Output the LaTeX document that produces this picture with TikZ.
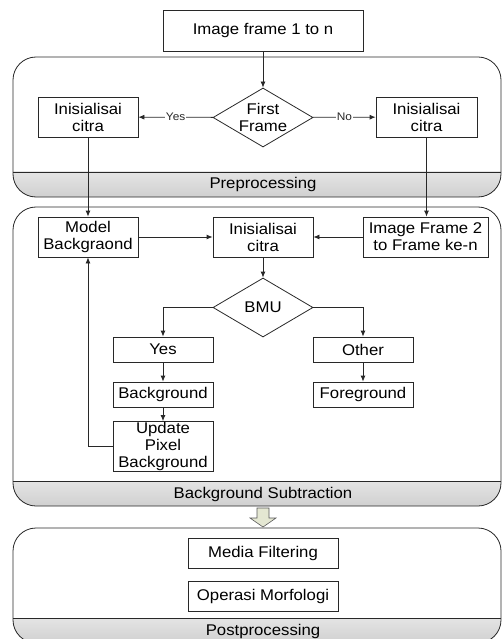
\documentclass[tikz,border=0pt]{standalone}
\usepackage{fontspec}
\setmainfont[FakeStretch=1.08]{Liberation Sans}
\usepackage{tikz}
\usetikzlibrary{arrows.meta}
\usetikzlibrary{shapes.geometric}
\usepackage{xcolor}
\definecolor{ColLine}{RGB}{40,40,40}
\definecolor{ColBandTop}{RGB}{228,228,228}
\definecolor{ColBandMid}{RGB}{246,246,246}
\definecolor{ColBandBot}{RGB}{208,208,208}
\definecolor{ColHollow}{RGB}{228,231,210}
\tikzstyle{BoxStep}=[draw=ColLine,line width=0.8pt,inner sep=0pt,align=center,
font=\fontsize{15.5}{17}\selectfont]
\tikzstyle{DecisionStep}=[diamond,draw=ColLine,line width=0.8pt,shape aspect=1.7,inner sep=0pt,
minimum width=100pt,minimum height=59pt,align=center,font=\fontsize{15.5}{17}\selectfont]
\tikzstyle{EdgeFlow}=[ColLine,line width=0.8pt,-{Latex[length=6pt,width=5pt]}]
\tikzstyle{EdgeTag}=[fill=white,inner sep=1pt,text=ColLine,font=\fontsize{11}{13}\selectfont]
\tikzstyle{PanelStage}=[draw=ColLine,line width=0.8pt,rounded corners=23pt]
\tikzstyle{BandStage}=[top color=ColBandTop,middle color=ColBandMid,bottom color=ColBandBot]
\tikzstyle{BandLabel}=[inner sep=0pt,font=\fontsize{15.5}{17}\selectfont]

\begin{document}
\begin{tikzpicture}[x=1pt,y=-1pt]
        \useasboundingbox(0,0)rectangle(502,639);
        % stage panels
        \begin{scope}
            \clip[rounded corners=23pt](13,57)rectangle(501,197);
            \shade[BandStage](13,172)rectangle(501,197);
        \end{scope}
        \draw[PanelStage](13,57)rectangle(501,197);
        \draw[ColLine,line width=0.8pt](13,172)--(501,172);
        \node[BandLabel](lblPre)at(263,184.5){Preprocessing};
        \begin{scope}
            \clip[rounded corners=23pt](13,207)rectangle(501,506);
            \shade[BandStage](13,481)rectangle(501,506);
        \end{scope}
        \draw[PanelStage](13,207)rectangle(501,506);
        \draw[ColLine,line width=0.8pt](13,481)--(501,481);
        \node[BandLabel](lblSub)at(263,494){Background Subtraction};
        \begin{scope}
            \clip[rounded corners=23pt](13,528)rectangle(501,643);
            \shade[BandStage](13,618)rectangle(501,643);
        \end{scope}
        \draw[PanelStage](13,528)rectangle(501,643);
        \draw[ColLine,line width=0.8pt](13,618)--(501,618);
        \node[BandLabel](lblPost)at(263,631){Postprocessing};
        \draw[gray!70!black,line width=0.6pt,fill=ColHollow](257,508)--(269,508)--(269,518)--(276,518)
            --(263,527)--(250,518)--(257,518)--cycle;
        % nodes
        \node[BoxStep,minimum width=200pt,minimum height=41pt](top)at(263,30.5){Image frame 1 to n};
        \node[DecisionStep](ff)at(263,117.5){First\\Frame};
        \node[BoxStep,minimum width=100pt,minimum height=40pt](initL)at(88,117){Inisialisai\\citra};
        \node[BoxStep,minimum width=101pt,minimum height=40pt](initR)at(426.5,117){Inisialisai\\citra};
        \node[BoxStep,minimum width=100pt,minimum height=40pt](model)at(88,237){Model\\Backgraond};
        \node[BoxStep,minimum width=100pt,minimum height=40pt](initC)at(263,237){Inisialisai\\citra};
        \node[BoxStep,minimum width=125pt,minimum height=40pt](frame)at(425.5,237){Image Frame 2\\to Frame ke-n};
        \node[DecisionStep](bmu)at(263,307.5){BMU};
        \node[BoxStep,minimum width=100pt,minimum height=25pt](yes)at(163,349.5){Yes};
        \node[BoxStep,minimum width=100pt,minimum height=25pt](other)at(363,349.5){Other};
        \node[BoxStep,minimum width=100pt,minimum height=25pt](bg)at(163,394.5){Background};
        \node[BoxStep,minimum width=100pt,minimum height=25pt](fg)at(363,394.5){Foreground};
        \node[BoxStep,minimum width=100pt,minimum height=50pt](upd)at(163,446.5){Update\\Pixel\\Background};
        \node[BoxStep,minimum width=150pt,minimum height=30pt](media)at(263,553){Media Filtering};
        \node[BoxStep,minimum width=150pt,minimum height=30pt](morf)at(263,596){Operasi Morfologi};
        % connectors
        \draw[EdgeFlow](top)--(ff);
        \draw[EdgeFlow](ff)--node[EdgeTag]{Yes}(initL);
        \draw[EdgeFlow](ff)--node[EdgeTag]{No}(initR);
        \draw[EdgeFlow](initL)--(model);
        \draw[EdgeFlow](initR.south)--(initR.south|-frame.north);
        \draw[EdgeFlow](model)--(initC);
        \draw[EdgeFlow](frame)--(initC);
        \draw[EdgeFlow](initC)--(bmu);
        \draw[EdgeFlow](bmu.west)-|(yes.north);
        \draw[EdgeFlow](bmu.east)-|(other.north);
        \draw[EdgeFlow](yes)--(bg);
        \draw[EdgeFlow](other)--(fg);
        \draw[EdgeFlow](bg)--(upd);
        \draw[EdgeFlow](upd.west)-|(model.south);
    \end{tikzpicture}
\end{document}
